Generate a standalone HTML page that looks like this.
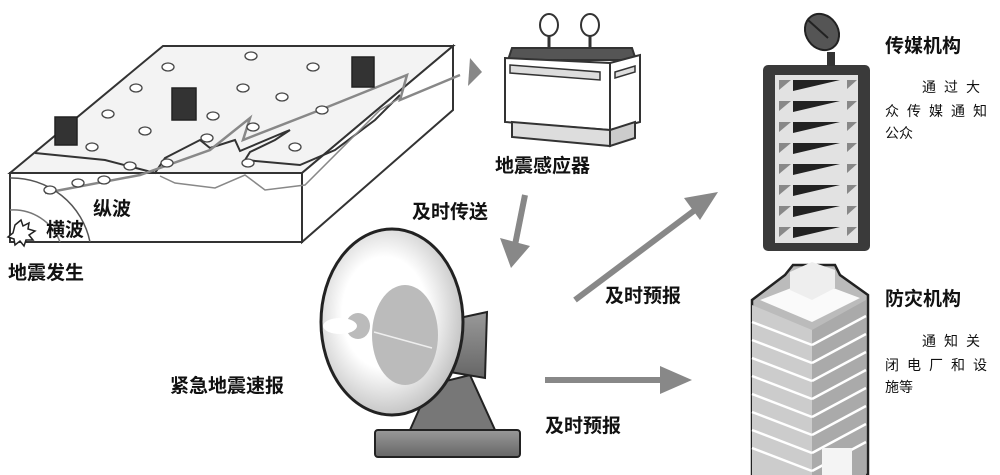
<!DOCTYPE html>
<html><head><meta charset="utf-8"><style>
html,body{margin:0;padding:0;background:#fff;}
svg{display:block}
text{font-family:"Liberation Sans","Noto Sans CJK SC",sans-serif;fill:#111}
</style></head><body>
<svg width="1000" height="475" viewBox="0 0 1000 475" xmlns="http://www.w3.org/2000/svg">
<defs>
<radialGradient id="dg" cx="0.45" cy="0.45" r="0.6"><stop offset="0.5" stop-color="#fff"/><stop offset="1" stop-color="#bbb"/></radialGradient>
<linearGradient id="bg" x1="0" y1="0" x2="0" y2="1"><stop offset="0" stop-color="#999"/><stop offset="1" stop-color="#666"/></linearGradient>
</defs>
<polygon points="10,173 163,46 453,46 302,173" fill="#f3f3f3" stroke="#333" stroke-width="2"/>
<polygon points="10,173 302,173 302,242 10,242" fill="#fff" stroke="#333" stroke-width="2"/>
<polygon points="302,173 453,46 453,110 302,242" fill="#fff" stroke="#333" stroke-width="2"/>
<polyline points="35,153 105,160 155,173 165,158 200,140 210,148 235,140 240,151 285,132 290,130 275,140 250,152 245,160 300,165 335,150 375,120 400,95" fill="none" stroke="#333" stroke-width="2"/>
<polyline points="160,176 175,183 215,188 245,175 265,190 305,185 380,110 400,98" fill="none" stroke="#888" stroke-width="1.5"/>
<polyline points="45,193 140,175 210,150 250,118 243,140 320,110 407,75 400,100 460,75" fill="none" stroke="#888" stroke-width="2.5"/>
<polygon points="482,72 470,58 468,86" fill="#888"/>
<path d="M10,178 A80,80 0 0 1 90,242" fill="none" stroke="#555" stroke-width="1.5"/>
<path d="M10,210 A50,50 0 0 1 60,242" fill="none" stroke="#777" stroke-width="1.5"/>
<path d="M15,225 l6,-5 l2,6 l6,-3 l-1,6 l7,2 l-6,4 l4,5 l-7,0 l-2,6 l-4,-5 l-5,4 l-1,-6 l-6,-2 l5,-4 z" fill="#fff" stroke="#222" stroke-width="1.5"/>
<g fill="#fff" stroke="#444" stroke-width="1.3">
<ellipse cx="251" cy="56" rx="6" ry="4"/><ellipse cx="168" cy="67" rx="6" ry="4"/><ellipse cx="313" cy="67" rx="6" ry="4"/>
<ellipse cx="136" cy="88" rx="6" ry="4"/><ellipse cx="243" cy="88" rx="6" ry="4"/><ellipse cx="282" cy="97" rx="6" ry="4"/>
<ellipse cx="108" cy="114" rx="6" ry="4"/><ellipse cx="213" cy="116" rx="6" ry="4"/><ellipse cx="322" cy="110" rx="6" ry="4"/>
<ellipse cx="145" cy="131" rx="6" ry="4"/><ellipse cx="253" cy="127" rx="6" ry="4"/><ellipse cx="92" cy="147" rx="6" ry="4"/>
<ellipse cx="207" cy="138" rx="6" ry="4"/><ellipse cx="295" cy="147" rx="6" ry="4"/><ellipse cx="130" cy="166" rx="6" ry="4"/>
<ellipse cx="167" cy="163" rx="6" ry="4"/><ellipse cx="248" cy="163" rx="6" ry="4"/><ellipse cx="78" cy="183" rx="6" ry="4"/>
<ellipse cx="104" cy="180" rx="6" ry="4"/><ellipse cx="50" cy="190" rx="6" ry="4"/>
</g>
<g stroke="#222" stroke-width="1.5">
<rect x="55" y="117" width="22" height="28" fill="#333"/>
<rect x="172" y="88" width="24" height="32" fill="#333"/>
<rect x="352" y="57" width="22" height="30" fill="#333"/>
</g>
<text x="93" y="215" font-size="19" font-weight="bold">纵波</text>
<text x="46" y="236" font-size="19" font-weight="bold">横波</text>
<text x="8" y="279" font-size="19" font-weight="bold">地震发生</text>
<polygon points="512,48 632,48 636,60 508,60" fill="#555" stroke="#333" stroke-width="2"/>
<polygon points="505,58 610,63 610,130 505,122" fill="#fff" stroke="#333" stroke-width="2"/>
<polygon points="610,63 640,55 640,122 610,130" fill="#fff" stroke="#333" stroke-width="2"/>
<polygon points="510,65 600,72 600,80 510,73" fill="#ddd" stroke="#333" stroke-width="1.5"/>
<polygon points="615,72 635,66 635,72 615,78" fill="#ddd" stroke="#333" stroke-width="1.5"/>
<polygon points="512,122 610,130 610,146 512,137" fill="#ddd" stroke="#333" stroke-width="2"/>
<polygon points="610,130 635,122 635,138 610,146" fill="#ccc" stroke="#333" stroke-width="2"/>
<ellipse cx="549" cy="25" rx="9" ry="11" fill="#fff" stroke="#333" stroke-width="2"/><line x1="549" y1="36" x2="549" y2="48" stroke="#333" stroke-width="3"/>
<ellipse cx="590" cy="25" rx="9" ry="11" fill="#fff" stroke="#333" stroke-width="2"/><line x1="590" y1="36" x2="590" y2="48" stroke="#333" stroke-width="3"/>
<text x="495" y="172" font-size="19" font-weight="bold">地震感应器</text>
<line x1="525" y1="195" x2="515" y2="245" stroke="#888" stroke-width="6"/>
<polygon points="500,238 530,246 511,268" fill="#888"/>
<text x="412" y="218" font-size="19" font-weight="bold">及时传送</text>
<rect x="375" y="430" width="145" height="27" rx="3" fill="url(#bg)" stroke="#222" stroke-width="2"/>
<polygon points="410,430 430,385 470,375 495,430" fill="#777" stroke="#222" stroke-width="2"/>
<polygon points="450,320 487,312 485,378 450,372" fill="url(#bg)" stroke="#222" stroke-width="2"/>
<ellipse cx="392" cy="322" rx="71" ry="93" fill="url(#dg)" stroke="#222" stroke-width="3"/>
<ellipse cx="405" cy="335" rx="33" ry="50" fill="#bbb"/>
<ellipse cx="358" cy="326" rx="12" ry="13" fill="#bbb"/>
<ellipse cx="340" cy="326" rx="17" ry="8" fill="#fff"/>
<line x1="374" y1="332" x2="432" y2="348" stroke="#eee" stroke-width="1.5"/>
<text x="170" y="392" font-size="19" font-weight="bold">紧急地震速报</text>
<line x1="575" y1="300" x2="695" y2="210" stroke="#888" stroke-width="6"/>
<polygon points="718,192 684,198 700,220" fill="#888"/>
<text x="605" y="302" font-size="19" font-weight="bold">及时预报</text>
<line x1="545" y1="380" x2="665" y2="380" stroke="#888" stroke-width="6"/>
<polygon points="692,380 660,366 660,394" fill="#888"/>
<text x="545" y="432" font-size="19" font-weight="bold">及时预报</text>
<rect x="763" y="65" width="107" height="186" rx="5" fill="#3a3a3a"/>
<rect x="775" y="75" width="83" height="168" fill="#e2e2e2"/>
<g>
<g id="row">
<polygon points="779,80 791,80 779,90" fill="#888"/>
<polygon points="793,80 840,80 793,91" fill="#222"/>
<polygon points="847,80 857,80 847,89" fill="#888"/>
</g>
<use href="#row" y="21"/><use href="#row" y="42"/><use href="#row" y="63"/><use href="#row" y="84"/><use href="#row" y="105"/><use href="#row" y="126"/><use href="#row" y="147"/>
</g>
<rect x="827" y="52" width="8" height="14" fill="#333"/>
<ellipse cx="822" cy="32" rx="16" ry="19" fill="#555" stroke="#222" stroke-width="2" transform="rotate(-35 822 32)"/>
<line x1="808" y1="20" x2="828" y2="38" stroke="#222" stroke-width="2"/>
<text x="885" y="52" font-size="19" font-weight="bold">传媒机构</text>
<g font-size="14" font-family="Liberation Serif, Noto Serif CJK SC, serif" fill="#333">
<text x="922" y="92" letter-spacing="8" fill="#333">通过大</text>
<text x="885" y="116" letter-spacing="8" fill="#333">众传媒通知</text>
<text x="885" y="138" fill="#333">公众</text>
<text x="922" y="346" letter-spacing="8" fill="#333">通知关</text>
<text x="885" y="370" letter-spacing="8" fill="#333">闭电厂和设</text>
<text x="885" y="392" fill="#333">施等</text>
</g>
<polygon points="752,300 785,275 793,265 835,265 840,275 868,295 868,475 752,475" fill="#bbb" stroke="#222" stroke-width="2.5"/>
<polygon points="760,300 812,322 860,298 812,280" fill="#fafafa"/>
<polygon points="790,290 812,300 835,288 835,270 812,262 790,272" fill="#eee"/>
<polygon points="752,305 812,330 812,475 752,475" fill="#ccc"/>
<polygon points="812,330 866,300 866,475 812,475" fill="#aaa"/>
<g stroke="#fff" stroke-width="2.5">
<line x1="752" y1="322" x2="812" y2="345"/><line x1="812" y1="345" x2="866" y2="316"/>
<line x1="752" y1="340" x2="812" y2="363"/><line x1="812" y1="363" x2="866" y2="334"/>
<line x1="752" y1="358" x2="812" y2="381"/><line x1="812" y1="381" x2="866" y2="352"/>
<line x1="752" y1="376" x2="812" y2="399"/><line x1="812" y1="399" x2="866" y2="370"/>
<line x1="752" y1="394" x2="812" y2="417"/><line x1="812" y1="417" x2="866" y2="388"/>
<line x1="752" y1="412" x2="812" y2="435"/><line x1="812" y1="435" x2="866" y2="406"/>
<line x1="752" y1="430" x2="812" y2="453"/><line x1="812" y1="453" x2="866" y2="424"/>
<line x1="752" y1="448" x2="812" y2="471"/><line x1="812" y1="471" x2="866" y2="442"/>
</g>
<rect x="822" y="448" width="30" height="27" fill="#f4f4f4"/>
<text x="885" y="305" font-size="19" font-weight="bold">防灾机构</text>
</svg>
</body></html>
